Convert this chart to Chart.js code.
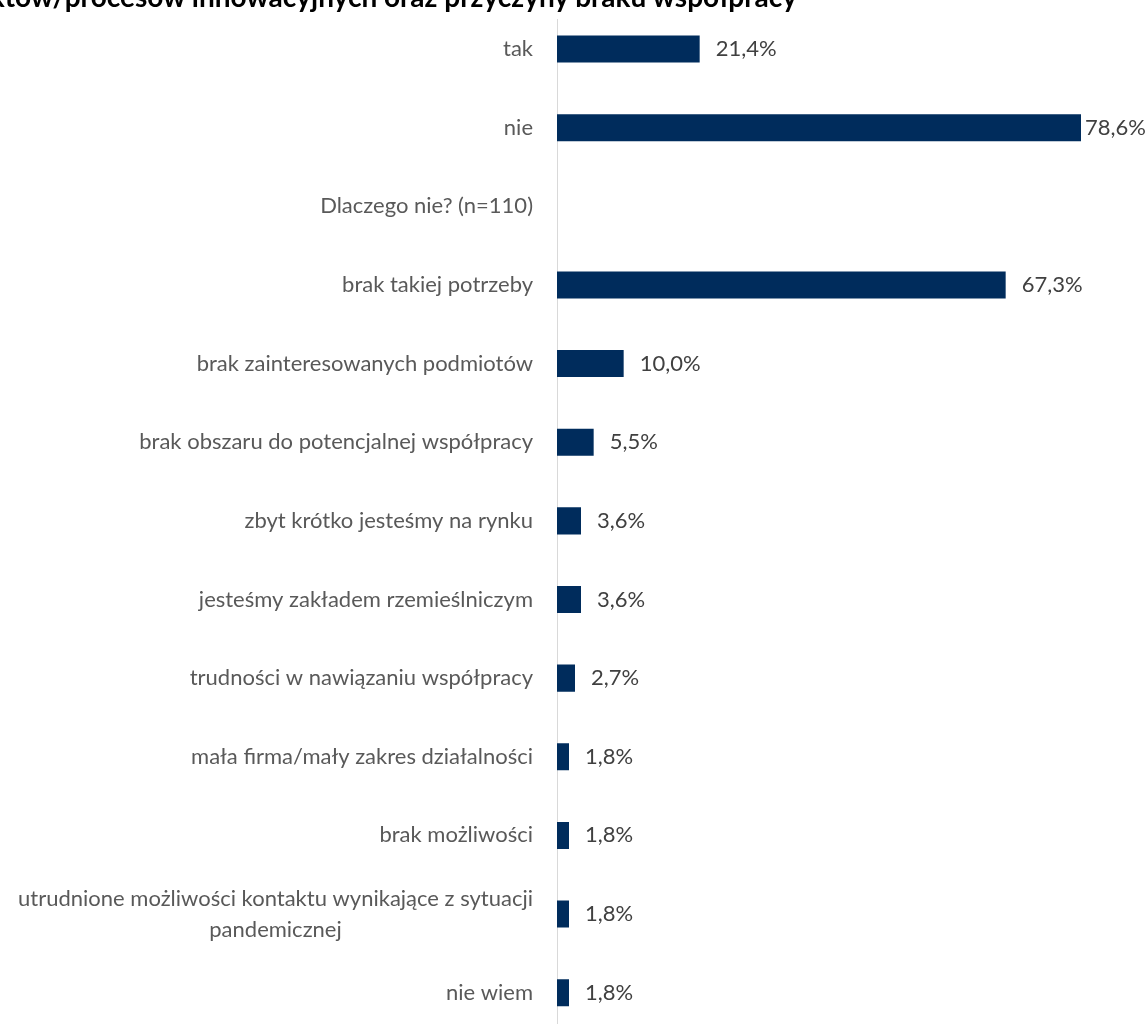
<!DOCTYPE html>
<html>
<head>
<meta charset="utf-8">
<script src="https://cdn.jsdelivr.net/npm/chart.js@4"></script>
<style>
  html, body { margin: 0; padding: 0; background: #fff; overflow: hidden; width: 1147px; height: 1024px; }
  #wrap { position: absolute; left: 0; top: 0; width: 1147px; height: 1032px; }
  #title { position: absolute; right: 350px; top: -20px; white-space: nowrap;
           font: bold 28px Lato, sans-serif; color: #000; line-height: 33.6px; }
  #titlemask { position: absolute; left: 540px; top: 0; width: 40px; height: 19px; background: #fff; }
</style>
</head>
<body>
<div id="wrap"><canvas id="c" width="1147" height="1032"></canvas></div>
<div id="titlemask"></div>
<div id="title">Współpraca z innymi podmiotami w zakresie tworzenia produktów/procesów innowacyjnych oraz przyczyny braku współpracy</div>
<script>
const categories = [
  ["tak"],
  ["nie"],
  ["Dlaczego nie? (n=110)"],
  ["brak takiej potrzeby"],
  ["brak zainteresowanych podmiotów"],
  ["brak obszaru do potencjalnej współpracy"],
  ["zbyt krótko jesteśmy na rynku"],
  ["jesteśmy zakładem rzemieślniczym"],
  ["trudności w nawiązaniu współpracy"],
  ["mała firma/mały zakres działalności"],
  ["brak możliwości"],
  ["utrudnione możliwości kontaktu wynikające z sytuacji", "pandemicznej"],
  ["nie wiem"]
];
const values = [21.4, 78.6, null, 67.3, 10.0, 5.5, 3.6, 3.6, 2.7, 1.8, 1.8, 1.8, 1.8];

const FONT_FAMILY = "Lato, 'Open Sans', sans-serif";
const FONT_SIZE = 22;
const LABEL_COLOR = '#595959';
const VALUE_COLOR = '#404040';

const categoryLabels = {
  id: 'categoryLabels',
  afterDraw(chart) {
    const ctx = chart.ctx;
    const y = chart.scales.y;
    const rightX = chart.chartArea.left - 24;
    ctx.save();
    ctx.font = FONT_SIZE + 'px ' + FONT_FAMILY;
    ctx.fillStyle = LABEL_COLOR;
    ctx.textBaseline = 'middle';
    ctx.textAlign = 'center';
    const lh = 31;
    categories.forEach((lines, i) => {
      const cy = y.getPixelForTick(i);
      const maxW = Math.max(...lines.map(l => ctx.measureText(l).width));
      const cx = rightX - maxW / 2;
      const y0 = cy - (lines.length - 1) * lh / 2;
      lines.forEach((l, k) => ctx.fillText(l, cx, y0 + k * lh));
    });
    ctx.restore();
  }
};

const valueLabels = {
  id: 'valueLabels',
  afterDatasetsDraw(chart) {
    const ctx = chart.ctx;
    const meta = chart.getDatasetMeta(0);
    ctx.save();
    ctx.font = FONT_SIZE + 'px ' + FONT_FAMILY;
    ctx.fillStyle = VALUE_COLOR;
    ctx.textBaseline = 'middle';
    ctx.textAlign = 'left';
    meta.data.forEach((bar, i) => {
      const v = values[i];
      if (v === null || v === undefined) return;
      const txt = v.toFixed(1).replace('.', ',') + '%';
      const w = ctx.measureText(txt).width;
      let x = bar.x + 16;
      if (x + w > chart.width - 2) x = bar.x + 4;
      ctx.fillText(txt, x, bar.y);
    });
    ctx.restore();
  }
};

new Chart(document.getElementById('c'), {
  type: 'bar',
  data: {
    labels: categories.map(c => c.join(' ')),
    datasets: [{
      data: values,
      backgroundColor: '#002c5c',
      borderWidth: 0,
      barPercentage: 0.344,
      categoryPercentage: 1.0
    }]
  },
  options: {
    indexAxis: 'y',
    responsive: false,
    animation: false,
    devicePixelRatio: 1,
    layout: { padding: { top: 9.7, bottom: 0, left: 0, right: 0 } },
    plugins: { legend: { display: false }, tooltip: { enabled: false } },
    scales: {
      x: { display: false, min: 0, max: 88.5 },
      y: {
        display: true,
        grid: { display: false, drawTicks: false },
        ticks: { display: false },
        border: { display: true, color: '#d9d9d9', width: 1 },
        afterFit(s) { s.width = 557; }
      }
    }
  },
  plugins: [categoryLabels, valueLabels]
});
</script>
</body>
</html>
